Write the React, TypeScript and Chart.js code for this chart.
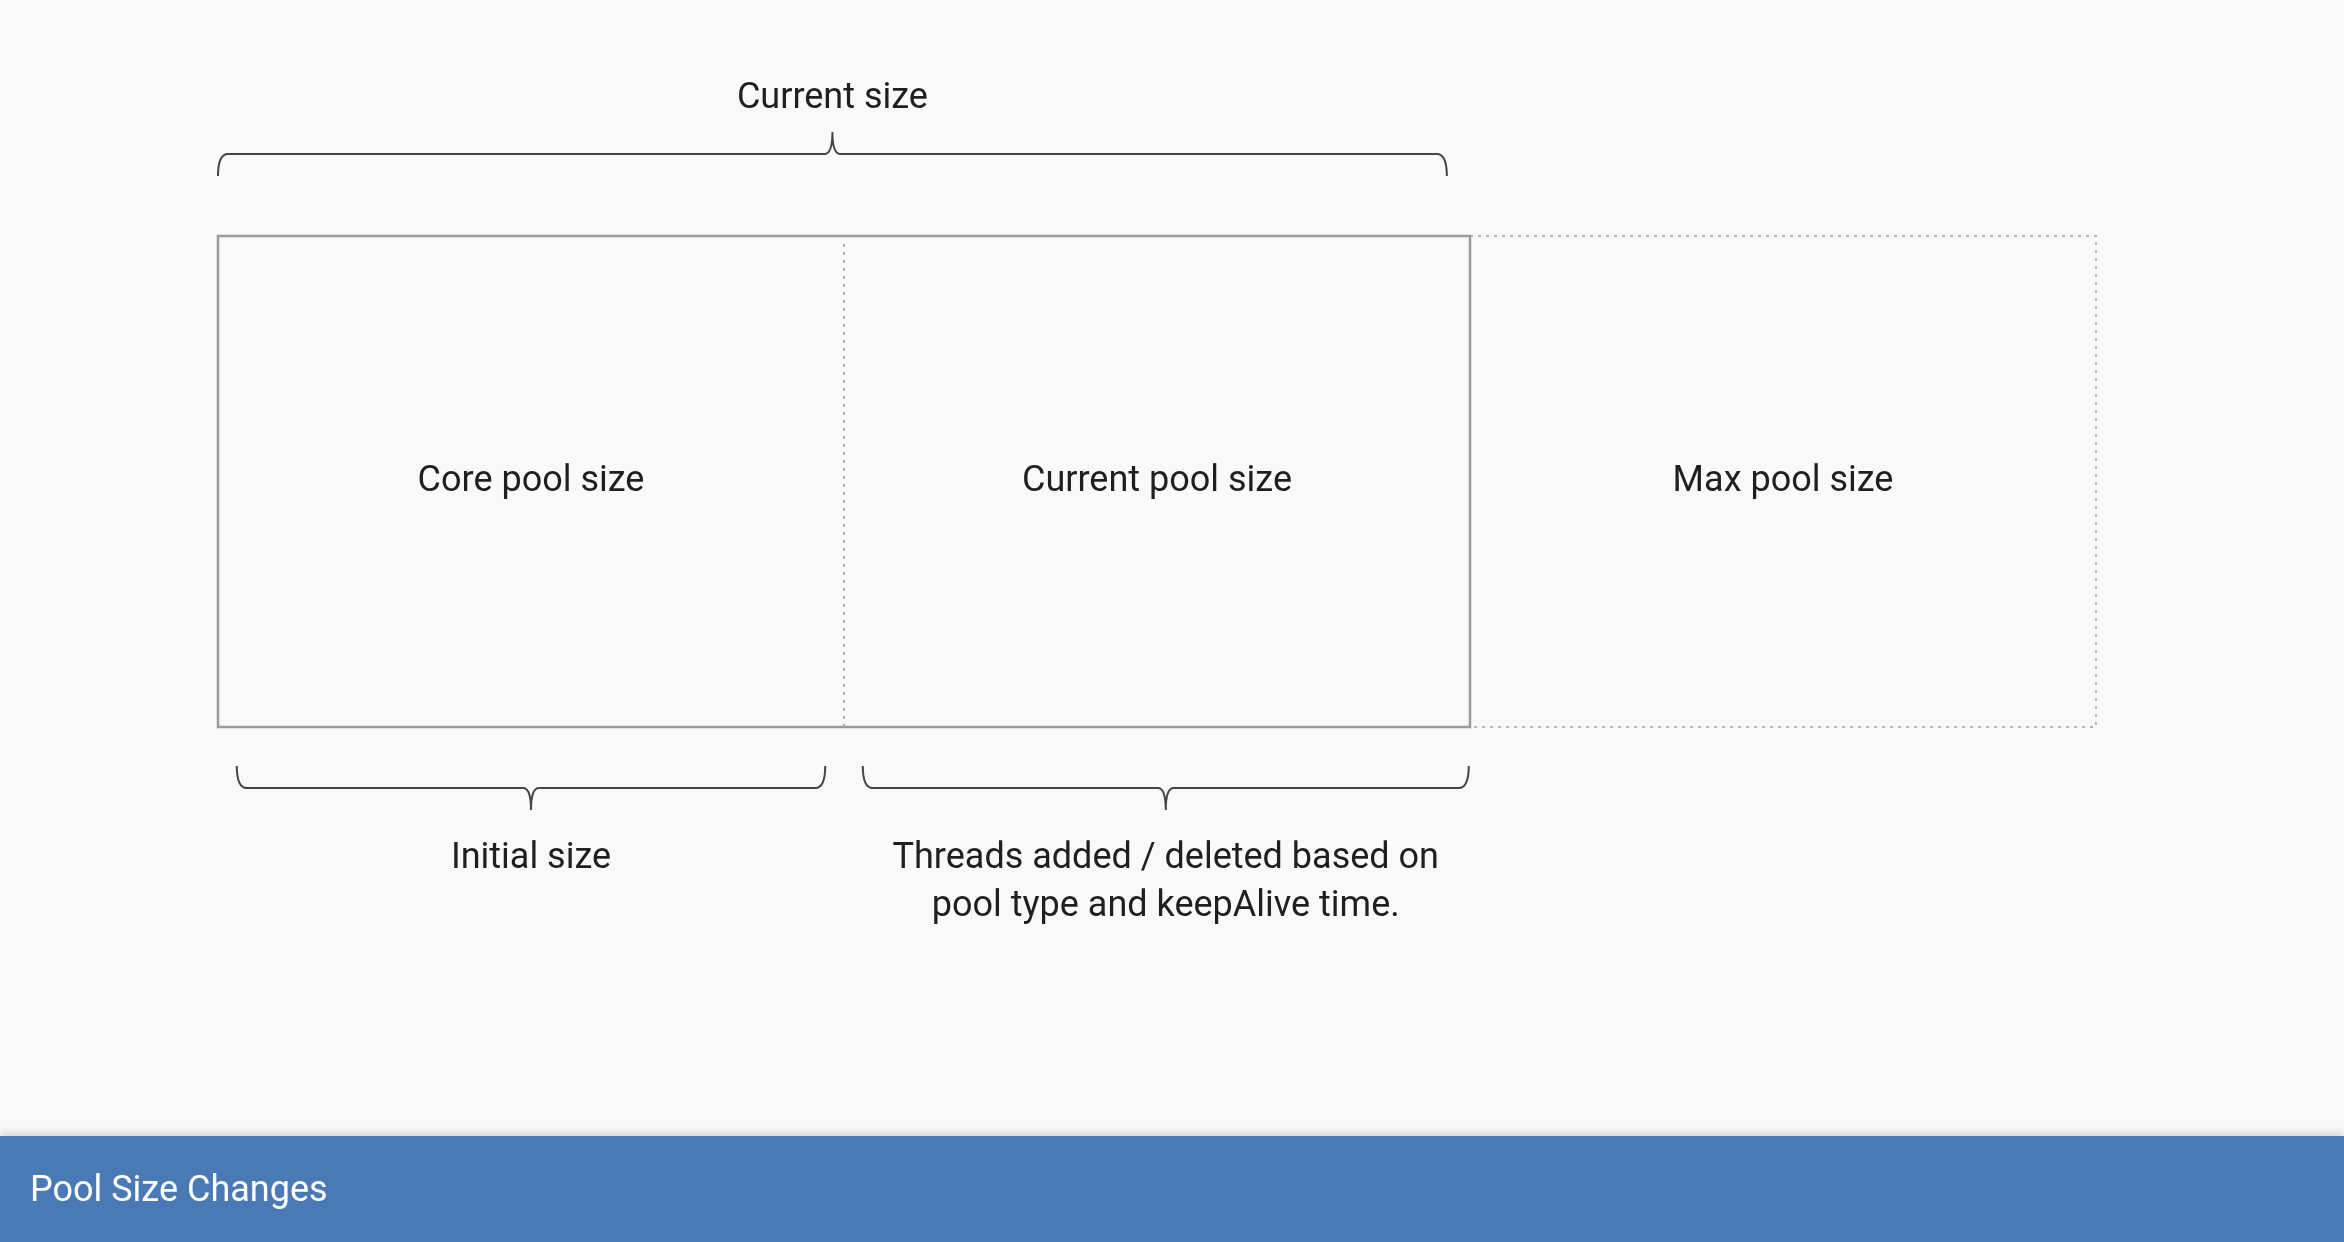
import { useEffect, useRef } from "react";
import { Chart, registerables } from "chart.js";

Chart.register(...registerables);

const segmentLabels = ["Core pool size", "Current pool size", "Max pool size"];
const segmentRanges: [number, number][] = [[0, 1], [1, 2], [2, 3]];
const segmentDashed = [false, false, true];

const topBracketLabel = "Current size";
const topBracketRange: [number, number] = [0, 1.963];
const bottomBracketLabels = [["Initial size"], ["Threads added / deleted based on", "pool type and keepAlive time."]];
const bottomBracketRanges: [number, number][] = [[0.03, 0.97], [1.03, 1.998]];

const LINE = "#9a9a9a";
const TEXT = "#1f1f1f";
const FONT = "36px Roboto";

export default function App() {
  const canvasRef = useRef<HTMLCanvasElement>(null);
  const chartRef = useRef<Chart | null>(null);

  useEffect(() => {
    document.body.style.margin = "0";
    document.body.style.background = "#f9f9f9";
    if (!canvasRef.current) return;
    chartRef.current?.destroy();

    const diagram = {
      id: "diagram",
      afterDatasetsDraw(chart: Chart) {
        const ctx = chart.ctx;
        const x = chart.scales.x;
        const { top, bottom } = chart.chartArea;
        const px = (v: number) => x.getPixelForValue(v);
        ctx.save();
        ctx.textAlign = "center";
        ctx.textBaseline = "middle";
        ctx.font = FONT;
        const mid = (top + bottom) / 2;

        // dotted outline of max box and divider
        ctx.strokeStyle = "#b5b5b5";
        ctx.lineWidth = 2;
        ctx.setLineDash([3, 5]);
        segmentRanges.forEach((r, i) => {
          if (segmentDashed[i]) ctx.strokeRect(px(r[0]), top, px(r[1]) - px(r[0]), bottom - top);
        });
        ctx.beginPath();
        ctx.moveTo(px(1), top + 8);
        ctx.lineTo(px(1), bottom);
        ctx.stroke();
        ctx.setLineDash([]);

        // solid outline of current size
        ctx.strokeStyle = LINE;
        ctx.lineWidth = 2.5;
        ctx.strokeRect(px(0), top, px(2) - px(0), bottom - top);

        ctx.fillStyle = TEXT;
        segmentRanges.forEach((r, i) => {
          ctx.fillText(segmentLabels[i], (px(r[0]) + px(r[1])) / 2, mid);
        });

        // brackets
        ctx.strokeStyle = "#444";
        ctx.lineWidth = 2;
        const bracket = (a: number, b: number, y: number, dir: number) => {
          const xa = px(a), xb = px(b), xm = (xa + xb) / 2;
          ctx.beginPath();
          ctx.moveTo(xa, y + dir * 22);
          ctx.quadraticCurveTo(xa, y, xa + 10, y);
          ctx.lineTo(xm - 8, y);
          ctx.quadraticCurveTo(xm, y, xm, y - dir * 22);
          ctx.moveTo(xm, y - dir * 22);
          ctx.quadraticCurveTo(xm, y, xm + 8, y);
          ctx.lineTo(xb - 10, y);
          ctx.quadraticCurveTo(xb, y, xb, y + dir * 22);
          ctx.stroke();
          return xm;
        };
        const tm = bracket(topBracketRange[0], topBracketRange[1], top - 82, 1);
        ctx.fillText(topBracketLabel, tm, top - 137);
        bottomBracketRanges.forEach((r, i) => {
          const m = bracket(r[0], r[1], bottom + 61, -1);
          bottomBracketLabels[i].forEach((t, j) => ctx.fillText(t, m, bottom + 132 + j * 48));
        });
        ctx.restore();
      },
    };

    chartRef.current = new Chart(canvasRef.current, {
      type: "bar",
      data: {
        labels: ["pool"],
        datasets: segmentRanges.map((r, i) => ({
          label: segmentLabels[i],
          data: [r] as any,
          backgroundColor: "transparent",
          borderWidth: 0,
          barPercentage: 1,
          categoryPercentage: 1,
          grouped: false,
        })),
      },
      options: {
        indexAxis: "y",
        animation: false,
        responsive: false,
        layout: { padding: { left: 218, right: 248, top: 236, bottom: 409 } },
        plugins: { legend: { display: false }, tooltip: { enabled: false } },
        scales: {
          x: { min: 0, max: 3, display: false },
          y: { display: false },
        },
      },
      plugins: [diagram],
    });
    return () => chartRef.current?.destroy();
  }, []);

  return (
    <div style={{ width: 2344, height: 1242, background: "#f9f9f9", position: "relative", overflow: "hidden" }}>
      <canvas ref={canvasRef} width={2344} height={1136} style={{ display: "block" }} />
      <div
        style={{
          position: "absolute", left: 0, top: 1136, width: 2344, height: 106,
          background: "#4a7ab5", boxShadow: "0 -4px 6px rgba(0,0,0,0.12)",
          color: "#fff", font: "36px Roboto", display: "flex", alignItems: "center", paddingLeft: 30,
          boxSizing: "border-box",
        }}
      >
        Pool Size Changes
      </div>
    </div>
  );
}
